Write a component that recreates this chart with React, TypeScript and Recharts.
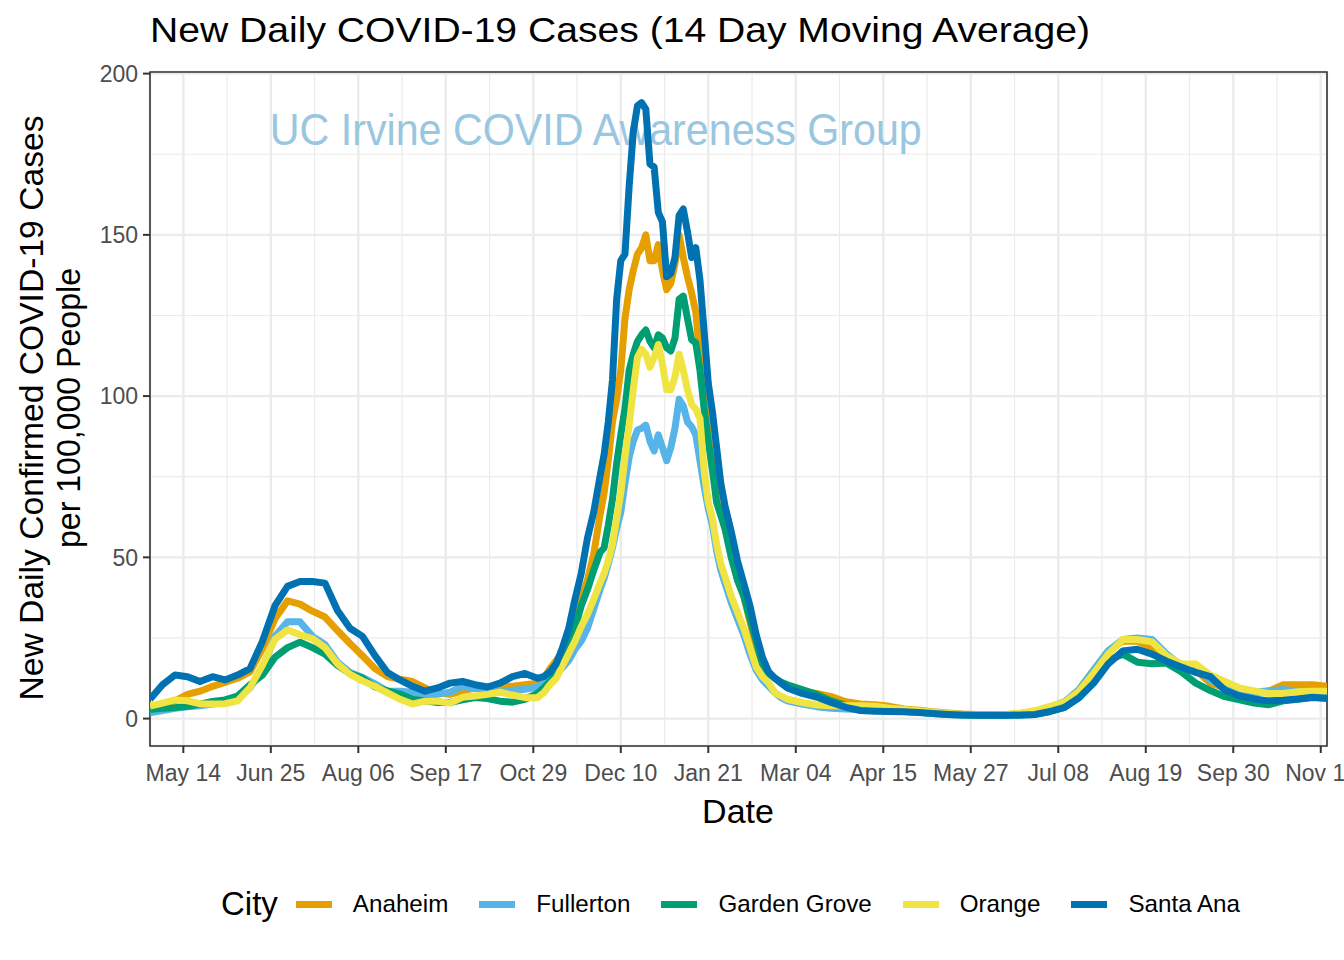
import { LineChart, Line, XAxis, YAxis, CartesianGrid, ReferenceLine, ReferenceArea, ReferenceDot } from 'recharts';

const FONT = '"Liberation Sans", Arial, Helvetica, sans-serif';

// days since May 14 2020
const days = [
  -16, -10, -4, 2, 8, 14, 20, 26, 32, 38, 44, 50, 56, 62, 68, 74, 80, 86, 92, 98, 104, 110, 116, 122, 128, 134, 140, 146, 152, 158, 164, 170,
  173, 176, 179, 182, 185, 188, 191, 194, 197, 200,
  202, 204, 206, 208, 210, 212, 214, 216, 218, 220, 222, 224, 226, 228, 230, 232, 234, 236, 238, 240, 242, 244, 246, 248, 250, 252, 254, 256, 258, 260,
  263, 266, 269, 272, 275, 278, 281, 284, 287, 290,
  297, 304, 311, 318, 325, 332, 339, 346, 353, 360, 367, 374, 381, 388, 395, 402, 409, 416, 423, 430, 437, 444, 451, 458, 465, 472, 479, 486, 493, 500, 507, 514, 521, 528, 535, 542, 549,
];

const anaheim = [
  3.5, 4.5, 5.5, 7.5, 8.5, 10, 11.2, 12.5, 14.5, 21.7, 31, 36.5, 35.5, 33.3, 31.5, 27.3, 23.3, 19.5, 15.5, 13, 12.2, 11.5, 9.5, 8, 7.5, 8.5, 9.5, 9.8, 10, 10, 10.5, 11,
  12.5, 15.5, 18, 20.5, 25, 31, 37, 43, 51, 63,
  70, 80, 92, 99, 108, 124, 133, 139, 144, 146, 150, 142, 142, 147, 139, 133, 135, 141, 150, 143, 137, 132, 126, 112, 100, 88, 79, 70, 64, 59,
  51, 43, 38, 30, 22, 17, 14, 12.5, 11, 10,
  8.5, 7.8, 6.8, 5.2, 4.5, 4.3, 3.8, 3.0, 2.6, 2.1, 1.7, 1.4, 1.3, 1.2, 1.2, 1.5, 2.2, 3.5, 5, 9, 15, 21, 24, 24, 22, 19, 16.5, 15, 11, 9.5, 8.5, 8, 8.5, 10.5, 10.5, 10.5, 10,
];

const fullerton = [
  1.8, 2.5, 3.2, 3.7, 4, 4.5, 5, 6, 9.5, 15.3, 25.5, 30, 30, 25.5, 23, 17.5, 14.3, 12.8, 10.8, 8.5, 8.5, 8.2, 7.2, 7.5, 8.2, 10, 9.3, 8.7, 8.2, 8.8, 9.1, 9.8,
  10.8, 12.3, 13.8, 15.8, 18, 21.5, 24, 28, 34, 40,
  43.5, 48, 53, 59, 64, 73, 81, 86, 89.5, 90, 91, 86, 83, 88, 84, 80, 84, 90, 99, 97, 92, 90.5, 88, 80, 72, 65, 60, 52, 46, 42,
  36, 31, 26, 20, 15, 12, 10, 8, 6.5, 5.5,
  4.5, 3.7, 3.2, 3, 2.8, 2.7, 2.5, 2.3, 2.1, 1.8, 1.5, 1.3, 1.2, 1.1, 1.2, 1.6, 2.3, 3.6, 5.2, 9, 15, 21, 24.5, 25, 24.5, 20, 16.5, 15.5, 12, 10, 8.5, 8.2, 8.6, 9, 8.5, 8.2, 8.2,
];

const gardenGrove = [
  2.8, 3.2, 3.4, 3.8, 4.5, 5.3, 5.8, 7, 10.5, 13.5, 19, 22, 23.7, 22, 20, 16.5, 14, 12.5, 9.8, 8.6, 7.6, 6, 5.5, 5, 5, 5.8, 6.5, 6.2, 5.4, 5.1, 6, 7.8,
  9.5, 11.5, 13.8, 16.3, 21, 28, 35, 40, 46, 51.5,
  53, 60, 68, 79, 88, 96, 108, 113, 117, 119, 120.5, 117, 115, 119, 118, 115, 114, 118, 130, 131, 124, 117.5, 116.5, 108, 96, 86, 77, 67, 63, 59,
  50, 43, 38, 31, 24, 16.5, 14, 12.5, 11.3, 10.5,
  9, 7.5, 5.5, 4, 3, 2.8, 2.5, 2.2, 2.0, 1.6, 1.3, 1.1, 1.0, 1.0, 1.0, 1.1, 1.3, 2.2, 3.5, 6.5, 11.5, 18, 20, 17.5, 17, 17.2, 14.5, 11, 8.7, 6.8, 5.8, 4.8, 4.3, 5.5, 6, 6.5, 6.3,
];

const orange = [
  3.9, 4.8, 5.8, 5.5, 4.6, 4.5, 4.6, 5.5, 9.6, 16.6, 24.6, 27.5, 26, 24.8, 22, 17, 13.7, 11.7, 10, 8, 6, 4.5, 5.4, 5.4, 4.8, 6.6, 7, 7.5, 8.2, 7.3, 6.5, 6.5,
  8, 10.5, 12.5, 16.3, 20.2, 24, 28.5, 32.3, 37, 42,
  45, 49, 54, 62, 70, 81, 91, 102, 112, 114.5, 113, 109, 112, 116, 110, 102, 102, 106, 113, 108, 102, 97.5, 96, 93, 77, 67, 62, 54, 48, 44,
  38, 33, 28, 22, 16, 13, 11, 8, 7, 6,
  5, 4.2, 4, 4, 4, 3.8, 3.2, 2.8, 2.4, 2.0, 1.6, 1.3, 1.2, 1.2, 1.3, 1.7, 2.5, 3.8, 5, 8.5, 14, 20, 24.5, 24.5, 23.8, 19.5, 17, 16.9, 13.5, 11.5, 9.5, 8.6, 7.8, 7.8, 8.3, 8.5, 8.5,
];

const santaAna = [
  6, 10.5, 13.5, 13, 11.5, 13, 12, 13.5, 15.5, 24, 35, 41, 42.5, 42.5, 42, 33.5, 28, 25.5, 19.5, 14.3, 12, 10, 8.5, 9.5, 11, 11.5, 10.5, 9.8, 11, 13, 14, 12.5,
  13, 14.5, 17, 22, 28, 37, 45, 56, 64, 75,
  82, 92, 105, 130, 142, 144, 165, 182, 190, 191, 189, 172, 171, 157, 154, 137, 138, 143, 156, 158, 151, 143, 146, 136, 120, 104, 95, 84, 73, 66,
  58, 49, 42, 35, 26, 19, 14.5, 12.5, 11, 9.5,
  7.8, 6.7, 5, 3.5, 2.5, 2.3, 2.2, 2.1, 1.9, 1.6, 1.3, 1.1, 1.0, 1.0, 1.0, 1.1, 1.3, 2.2, 3.5, 6.5, 11, 17, 21, 21.5, 20, 17.8, 16, 14.3, 13, 8.8, 7, 6.1, 5.5, 5.7, 6.1, 6.6, 6.3,
];

const cities = ['Anaheim', 'Fullerton', 'Garden Grove', 'Orange', 'Santa Ana'];
const cityColors = ['#E69F00', '#56B4E9', '#009E73', '#F0E442', '#0072B2'];
const cityValues = [anaheim, fullerton, gardenGrove, orange, santaAna];

const xTicks = [0, 42, 84, 126, 168, 210, 252, 294, 336, 378, 420, 462, 504, 546];
const xMinor = [21, 63, 105, 147, 189, 231, 273, 315, 357, 399, 441, 483, 525];
const yTicks = [0, 50, 100, 150, 200];
const yMinor = [25, 75, 125, 175];

const X_DOMAIN: [number, number] = [-16, 549];
const Y_DOMAIN: [number, number] = [-8.5, 200.5];

const MONTHS = ['Jan', 'Feb', 'Mar', 'Apr', 'May', 'Jun', 'Jul', 'Aug', 'Sep', 'Oct', 'Nov', 'Dec'];
const START = Date.UTC(2020, 4, 14);
const fmtDay = (d: number) => {
  const t = new Date(START + d * 86400000);
  return `${MONTHS[t.getUTCMonth()]} ${String(t.getUTCDate()).padStart(2, '0')}`;
};

const rows = days.map((day, i) => {
  const r: Record<string, number> = { day };
  cities.forEach((c, k) => { r[c] = cityValues[k][i]; });
  return r;
});

const tickStyle = { fontSize: 23, fill: '#4D4D4D', fontFamily: FONT };

const renderWatermark = (props: any) => {
  const vb = props.viewBox || {};
  const cx = (vb.x ?? 0) + (vb.width ?? 0) / 2;
  const cy = (vb.y ?? 0) + (vb.height ?? 0) / 2;
  return (
    <text x={cx} y={cy} textAnchor="middle" fontSize={44} fill="#99C6E0" fontFamily={FONT}
      textLength={652} lengthAdjust="spacingAndGlyphs">
      UC Irvine COVID Awareness Group
    </text>
  );
};

export default function App() {
  return (
    <div style={{ position: 'absolute', left: 0, top: 0, width: 1344, height: 960, overflow: 'hidden', background: '#fff', fontFamily: FONT }}>
      <LineChart width={1344} height={960} data={rows} margin={{ top: 72, right: 17, bottom: 174, left: 0 }}>
        <CartesianGrid stroke="#EBEBEB" strokeWidth={2.4} />
        {yMinor.map((v) => (
          <ReferenceLine key={'ym' + v} y={v} stroke="#EBEBEB" strokeWidth={1.2} zIndex={-50} />
        ))}
        {xMinor.map((v) => (
          <ReferenceLine key={'xm' + v} x={v} stroke="#EBEBEB" strokeWidth={1.2} zIndex={-50} />
        ))}
        <XAxis dataKey="day" type="number" domain={X_DOMAIN} ticks={xTicks} interval={0} allowDataOverflow
          tickFormatter={fmtDay} height={40} tickSize={7} tickMargin={12} axisLine={false}
          tickLine={{ stroke: '#333333', strokeWidth: 2 }} tick={tickStyle} />
        <YAxis type="number" domain={Y_DOMAIN} ticks={yTicks} interval={0} allowDataOverflow width={150}
          tickSize={7} tickMargin={5} axisLine={false}
          tickLine={{ stroke: '#333333', strokeWidth: 2 }} tick={tickStyle} />
        <ReferenceDot x={198} y={178} r={0} fill="none" stroke="none" label={renderWatermark} zIndex={-40} />
        {cities.map((c, k) => (
          <Line key={c} dataKey={c} type="linear" stroke={cityColors[k]} strokeWidth={7} dot={false}
            activeDot={false} strokeLinejoin="round" isAnimationActive={false} />
        ))}
        <ReferenceArea x1={X_DOMAIN[0]} x2={X_DOMAIN[1]} y1={Y_DOMAIN[0]} y2={Y_DOMAIN[1]}
          fill="none" fillOpacity={0} stroke="#333333" strokeWidth={1.6} ifOverflow="visible" />
      </LineChart>

      <svg width={1344} height={960} style={{ position: 'absolute', left: 0, top: 0, pointerEvents: 'none' }}>
        <text x={150} y={42} fontSize={35} fill="#000" fontFamily={FONT} textLength={940} lengthAdjust="spacingAndGlyphs">
          New Daily COVID-19 Cases (14 Day Moving Average)
        </text>
        <text transform="translate(43,408) rotate(-90)" textAnchor="middle" fontSize={33} fill="#000" fontFamily={FONT}
          textLength={585} lengthAdjust="spacingAndGlyphs">
          New Daily Confirmed COVID-19 Cases
        </text>
        <text transform="translate(80,408) rotate(-90)" textAnchor="middle" fontSize={33} fill="#000" fontFamily={FONT}
          textLength={280} lengthAdjust="spacingAndGlyphs">
          per 100,000 People
        </text>
        <text x={738} y={823} textAnchor="middle" fontSize={34} fill="#000" fontFamily={FONT}>
          Date
        </text>
      </svg>

      <div style={{ position: 'absolute', left: 221, top: 884, height: 40, display: 'flex', alignItems: 'center', fontFamily: FONT, color: '#000' }}>
        <span style={{ fontSize: 33, marginRight: 18, lineHeight: '40px' }}>City</span>
        {cities.map((c, k) => (
          <div key={c} style={{ display: 'flex', alignItems: 'center', marginRight: k < cities.length - 1 ? 31 : 0 }}>
            <span style={{ display: 'inline-block', width: 36, height: 7, background: cityColors[k], marginRight: 21 }} />
            <span style={{ fontSize: 24.2, lineHeight: '40px' }}>{c}</span>
          </div>
        ))}
      </div>
    </div>
  );
}
